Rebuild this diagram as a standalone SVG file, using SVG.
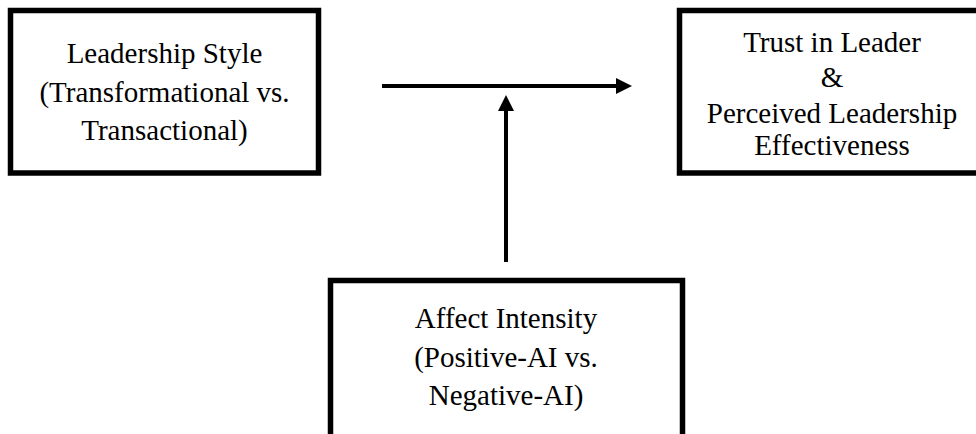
<svg xmlns="http://www.w3.org/2000/svg" width="976" height="434" viewBox="0 0 976 434">
<style>
.box{fill:#fff;stroke:#000;stroke-width:5.5}
.t{font-family:"Liberation Serif","Times New Roman",serif;font-size:29px;fill:#000;text-anchor:middle}
.c{stroke:#000;stroke-width:4;fill:none}
</style>
<defs>
<marker id="ah" markerUnits="userSpaceOnUse" markerWidth="16" markerHeight="16" viewBox="0 0 16 16" refX="4" refY="8" orient="auto">
<path d="M0,0 L16,8 L0,16 Z" fill="#000"/>
</marker>
</defs>
<rect width="976" height="434" fill="#fff"/>
<g id="leadership-style">
<rect class="box" x="10.5" y="10.5" width="308" height="162.5"/>
<text class="t" x="164.5" y="62.7">Leadership Style</text>
<text class="t" x="164.5" y="101.5">(Transformational vs.</text>
<text class="t" x="164.5" y="140">Transactional)</text>
</g>
<g id="trust-effectiveness">
<rect class="box" x="679.5" y="10.5" width="320" height="162.5"/>
<text class="t" x="832" y="51.7">Trust in Leader</text>
<text class="t" x="832" y="87">&amp;</text>
<text class="t" x="832" y="122.7">Perceived Leadership</text>
<text class="t" x="832" y="155">Effectiveness</text>
</g>
<g id="affect-intensity">
<rect class="box" x="330.5" y="280.5" width="352" height="180"/>
<text class="t" x="506" y="328">Affect Intensity</text>
<text class="t" x="506" y="367">(Positive-AI vs.</text>
<text class="t" x="506" y="405">Negative-AI)</text>
</g>
<g id="connectors">
<line class="c" x1="382" y1="86" x2="620" y2="86" marker-end="url(#ah)"/>
<line class="c" x1="506" y1="262" x2="506" y2="107" marker-end="url(#ah)"/>
</g>
</svg>
